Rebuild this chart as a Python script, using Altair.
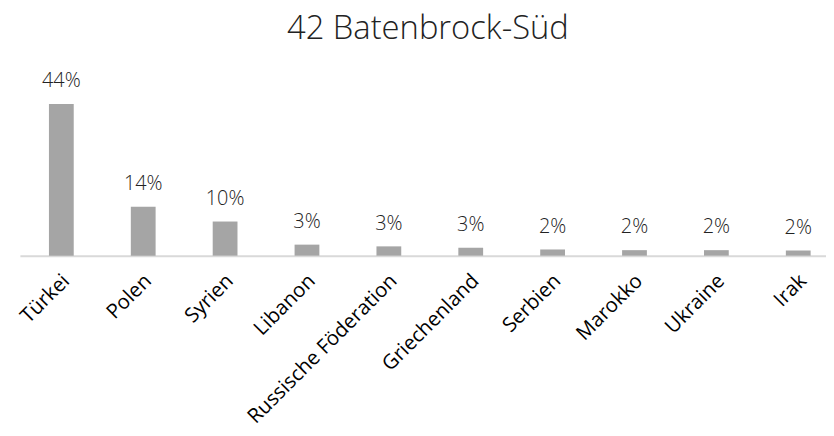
import altair as alt
import pandas as pd

countries = ["Türkei", "Polen", "Syrien", "Libanon", "Russische Föderation",
             "Griechenland", "Serbien", "Marokko", "Ukraine", "Irak"]
shares = [44.0, 14.2, 9.9, 3.2, 2.7, 2.3, 1.8, 1.6, 1.6, 1.5]
labels = ["44%", "14%", "10%", "3%", "3%", "3%", "2%", "2%", "2%", "2%"]
title_text = "42 Batenbrock-Süd"

df = pd.DataFrame({"land": countries, "anteil": shares, "label": labels})

x = alt.X(
    "land:N", sort=countries, title=None,
    scale=alt.Scale(paddingInner=0.6973, paddingOuter=0.2712, align=0.654, round=False),
    axis=alt.Axis(
        labelAngle=-45, labelAlign="right", labelBaseline="top",
        labelPadding=15, labelOffset=-2, labelLimit=400,
        labelFont="Open Sans", labelFontSize=20.5, labelColor="#000000",
        labelOverlap=False, ticks=False, tickSize=0,
        domainColor="#D9D9D9", domainWidth=2,
    ),
)
y = alt.Y("anteil:Q", scale=alt.Scale(domain=[0, 48], nice=False, zero=True), axis=None)

bars = alt.Chart(df).mark_bar(color="#A5A5A5").encode(x=x, y=y)
text = alt.Chart(df).mark_text(
    baseline="alphabetic", dy=-17, font="Open Sans", fontSize=20,
    fontWeight=300, color="#222222",
).encode(x=alt.X("land:N", sort=countries), y=alt.Y("anteil:Q"), text="label:N")

chart = alt.layer(bars, text).properties(
    width=813, height=167,
    title=alt.TitleParams(
        title_text, font="Open Sans", fontSize=33, fontWeight=300,
        color="#222222", anchor="middle", frame="group", baseline="alphabetic",
        offset=-1, dx=5,
    ),
    autosize=alt.AutoSizeParams(type="none"),
    padding={"left": 12, "top": 81, "right": 0, "bottom": 172},
).configure_view(stroke=None)

chart.save("out.html", embed_options={"renderer": "svg", "actions": False})
